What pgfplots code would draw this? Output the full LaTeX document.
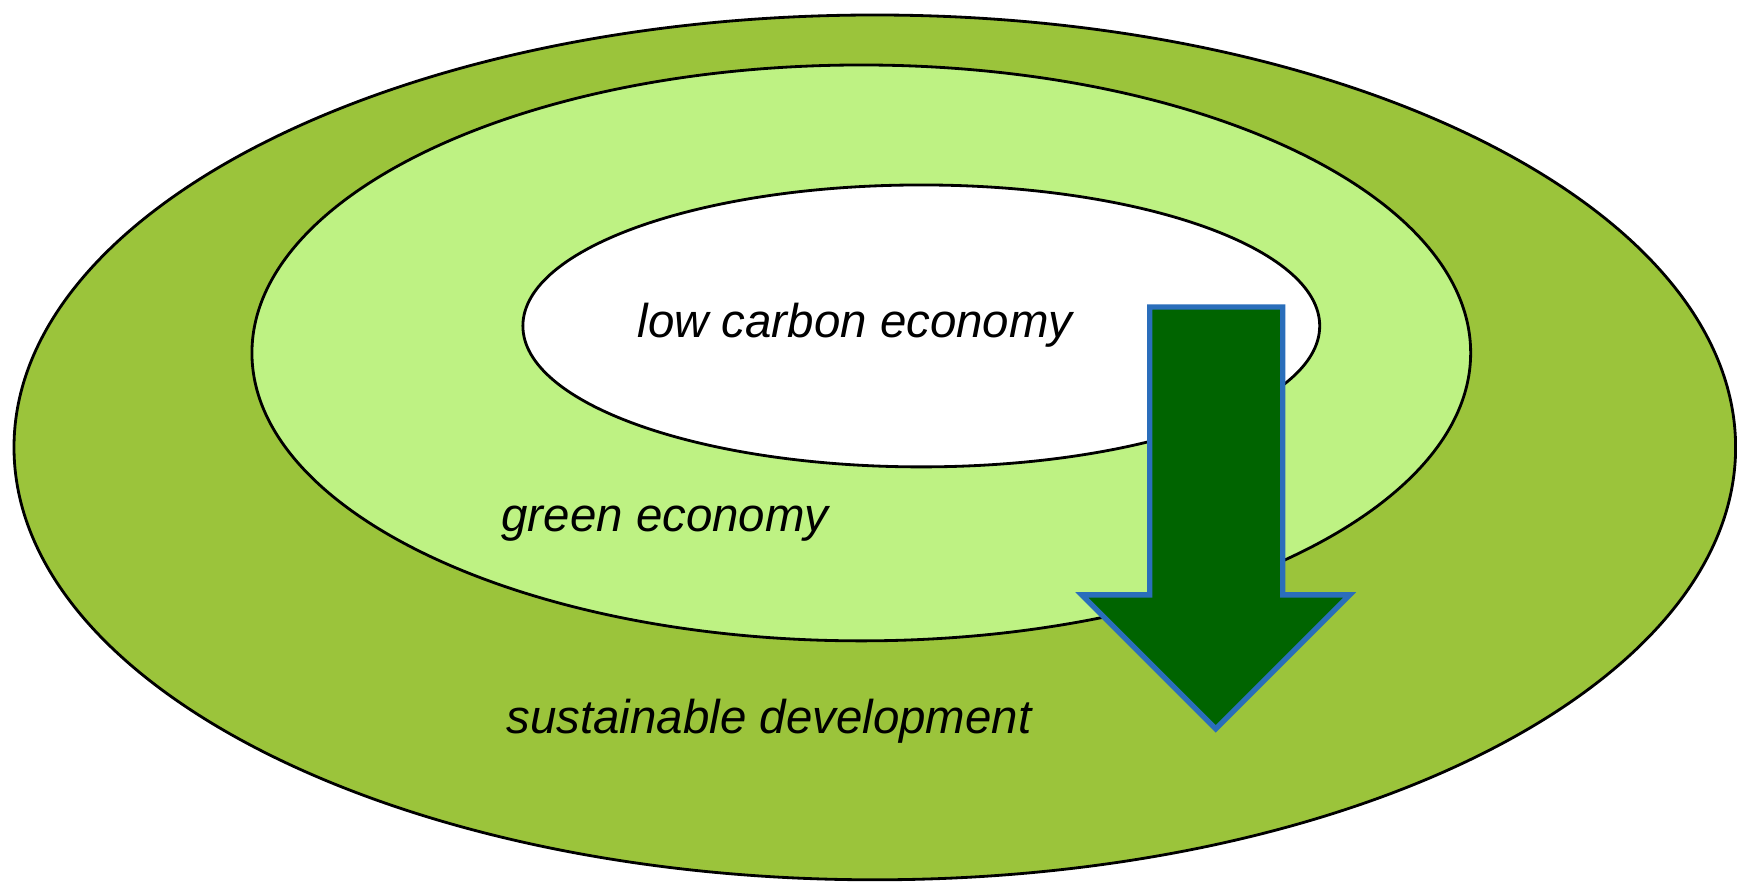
\documentclass[border=0pt]{standalone}
\usepackage{fontspec}
\setmainfont{Liberation Sans}
\usepackage{pgfplots}
\pgfplotsset{compat=1.18}
\definecolor{outergreen}{HTML}{9BC43B}
\definecolor{midgreen}{HTML}{BEF283}
\definecolor{arrowfill}{HTML}{006400}
\definecolor{arrowedge}{HTML}{2A6EBB}

\begin{document}
\begin{tikzpicture}
\begin{axis}[
  width=17.37cm, height=8.81cm, scale only axis,
  xmin=0, xmax=1737, ymin=0, ymax=881,
  hide axis, clip=false,
]
% keep the full canvas
\path (axis cs:0,0) rectangle (axis cs:1737,881);
% nested rings (radii in axis units)
\draw[black, line width=0.8pt, fill=outergreen] (axis cs:875,433.5) ellipse [x radius=861, y radius=432.5];
\draw[black, line width=0.8pt, fill=midgreen] (axis cs:861.5,528) ellipse [x radius=609.5, y radius=288];
\draw[black, line width=0.8pt, fill=white] (axis cs:921.5,555) ellipse [x radius=398.5, y radius=141];
% labels
\node[anchor=base west, inner sep=0pt, font=\fontsize{13.5}{16}\selectfont\itshape] at (axis cs:637,543) {low carbon economy};
\node[anchor=base west, inner sep=0pt, font=\fontsize{13.5}{16}\selectfont\itshape] at (axis cs:501,349) {green economy};
\node[anchor=base west, inner sep=0pt, font=\fontsize{13.5}{16}\selectfont\itshape] at (axis cs:506,147) {sustainable development};
% down arrow
\addplot[fill=arrowfill, draw=arrowedge, line width=1.5pt, line join=miter] coordinates {
  (1150,574) (1283,574) (1283,286) (1350,286) (1216,152) (1082,286) (1150,286)} -- cycle;
\end{axis}
\end{tikzpicture}
\end{document}
